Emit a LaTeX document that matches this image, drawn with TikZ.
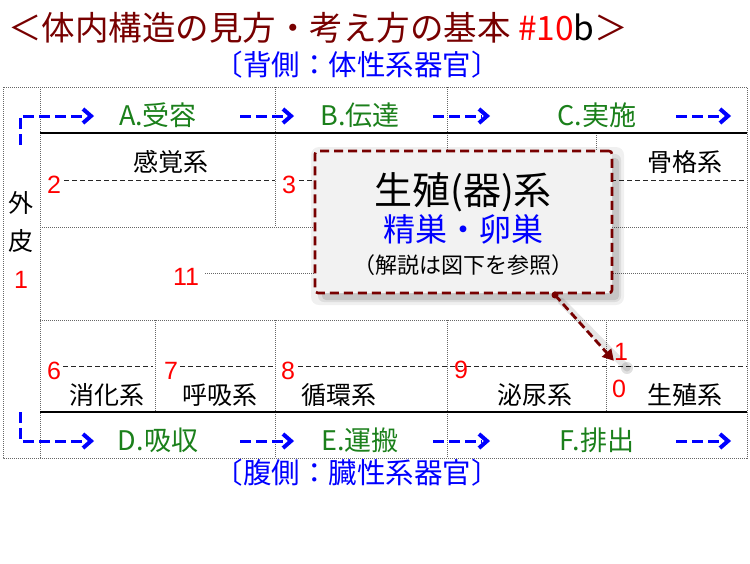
\documentclass[tikz,border=0pt]{standalone}
\usepackage{fontspec}
\setmainfont{Noto Sans CJK JP}
\newfontfamily\latinfont{Liberation Sans}
\usetikzlibrary{arrows.meta}
\definecolor{mymaroon}{HTML}{780000}
\definecolor{mygreen}{HTML}{1B801B}
\definecolor{popfill}{HTML}{F2F2F2}
\tikzset{
  gridline/.style={draw=black!60, line width=0.6pt, dash pattern=on 1pt off 1pt},
  celldash/.style={draw=black!85, line width=0.9pt, dash pattern=on 5pt off 3pt},
  solidline/.style={draw=black, line width=1.3pt},
  flowL/.style={draw=blue, line width=3pt, dash pattern=on 11pt off 5pt},
  chevtip/.pic={\draw[blue, line width=4pt, solid, line join=miter, line cap=butt] (-8,-7) -- (0,0) -- (-8,7);},
  syslabel/.style={font=\fontsize{25}{28}\selectfont, inner sep=0pt},
  numlabel/.style={font=\latinfont\fontsize{25}{28}\selectfont, text=red, inner sep=0pt},
  steplabel/.style={font=\fontsize{27}{30}\selectfont, text=mygreen, inner sep=0pt},
  popbox/.style={draw=mymaroon, fill=popfill, line width=2.6pt, dash pattern=on 9pt off 5pt, rounded corners=3pt},
}
\begin{document}
\begin{tikzpicture}[x=1pt,y=-1pt]
\useasboundingbox (0,0) rectangle (750,563);
\fill[white] (0,0) rectangle (750,563);

% title and subtitles
\node[anchor=west, inner sep=0pt, font=\fontsize{33.5}{38}\selectfont, text=mymaroon] (title) at (8,28)
  {＜体内構造の見方・考え方の基本 \textcolor{red}{\#10}\textcolor{black}{b}＞};
\node[inner sep=0pt, font=\fontsize{28.5}{32}\selectfont, text=blue] (back) at (357,65) {〔背側：体性系器官〕};
\node[inner sep=0pt, font=\fontsize{28.5}{32}\selectfont, text=blue] (belly) at (357,473) {〔腹側：臓性系器官〕};

% grid
\draw[gridline] (3,87) rectangle (747,458);
\draw[gridline] (40,87) -- (40,458);
\draw[gridline] (275,87) -- (275,227);
\draw[gridline] (447,87) -- (447,227);
\draw[gridline] (596,133) -- (596,227);
\draw[gridline] (40,227) -- (747,227);
\draw[gridline] (40,320) -- (747,320);
\draw[gridline] (205,273) -- (747,273);
\draw[gridline] (155,320) -- (155,412);
\draw[gridline] (275,320) -- (275,458);
\draw[gridline] (447,320) -- (447,458);
\draw[gridline] (606,320) -- (606,412);
\draw[solidline] (40,133) -- (747,133);
\draw[solidline] (40,412) -- (747,412);

% cell dashed lines
\draw[celldash] (64,180) -- (275,180);
\draw[celldash] (299,180) -- (747,180);
\draw[celldash] (63,366) -- (153,366);
\draw[celldash] (180,366) -- (275,366);
\draw[celldash] (298,366) -- (747,366);

% left column
\node[syslabel] (gai) at (21,203) {外};
\node[syslabel] (hi) at (21,241) {皮};
\node[numlabel] (n1) at (21,280) {1};

% numbers
\node[numlabel] (n2) at (54,185) {2};
\node[numlabel] (n3) at (289,185) {3};
\node[numlabel] (n11) at (186,277) {11};
\node[numlabel] (n6) at (54,371) {6};
\node[numlabel] (n7) at (171,371) {7};
\node[numlabel] (n8) at (288,371) {8};
\node[numlabel] (n9) at (461,370) {9};
\node[numlabel] (n10a) at (621,352) {1};
\node[numlabel] (n10b) at (619,389) {0};

% system labels
\node[syslabel] (kankaku) at (171,162) {感覚系};
\node[syslabel] (kokkaku) at (685,162) {骨格系};
\node[syslabel] (shoka) at (107,395) {消化系};
\node[syslabel] (kokyu) at (220,395) {呼吸系};
\node[syslabel] (junkan) at (339,395) {循環系};
\node[syslabel] (hinyo) at (535,395) {泌尿系};
\node[syslabel] (seishoku) at (685,395) {生殖系};

% step labels
\node[steplabel] (A) at (158,115) {A.受容};
\node[steplabel] (B) at (360,115) {B.伝達};
\node[steplabel] (C) at (597,115) {C.実施};
\node[steplabel] (D) at (158,440) {D.吸収};
\node[steplabel] (E) at (360,440) {E.運搬};
\node[steplabel] (F) at (597,440) {F.排出};

% flow arrows
\coordinate (tl0) at (20,145); \coordinate (tl1) at (20,116);
\coordinate (bl0) at (20,412); \coordinate (bl1) at (20,441);
\draw[flowL] (tl0) -- (tl1) -- (86,116);
\pic at (91,116) {chevtip};
\draw[flowL] (bl0) -- (bl1) -- (86,441);
\pic at (91,441) {chevtip};
\foreach \xa/\xb in {240/291, 433/487, 676/728}{
  \draw[flowL] (\xa,116) -- (\xb-5,116);
  \pic at (\xb,116) {chevtip};
  \draw[flowL] (\xa,441) -- (\xb-5,441);
  \pic at (\xb,441) {chevtip};
}

% popup shadow
\fill[black, opacity=0.06, rounded corners=8pt] (311,147) rectangle (624,305);
\fill[black, opacity=0.08, rounded corners=6pt] (318,154) rectangle (621,302);
\fill[black, opacity=0.10, rounded corners=4pt] (322,158) rectangle (619,300);
% connector shadow
\draw[black, opacity=0.10, line width=7pt, line cap=round] (561,301) -- (627,368);
\fill[black, opacity=0.12] (627,368) circle (6);

% popup
\node[popbox, minimum width=297pt, minimum height=142pt, inner sep=0pt] (pop) at (463.5,222) {};
\node[inner sep=0pt, font=\fontsize{38}{42}\selectfont] (p1) at (463,192) {生殖(器)系};
\node[inner sep=0pt, font=\fontsize{32}{36}\selectfont, text=blue] (p2) at (463,229) {精巣・卵巣};
\node[inner sep=0pt, font=\fontsize{22}{26}\selectfont] (p3) at (463,265) {（解説は図下を参照）};

% connector
\coordinate (cstart) at (555,295);
\fill[mymaroon] (cstart) circle (3.5);
\draw[draw=mymaroon, line width=2.8pt, dash pattern=on 8pt off 4pt, -{Triangle[length=11pt,width=12pt]}] (cstart) -- (n10a.south west);
\end{tikzpicture}
\end{document}
